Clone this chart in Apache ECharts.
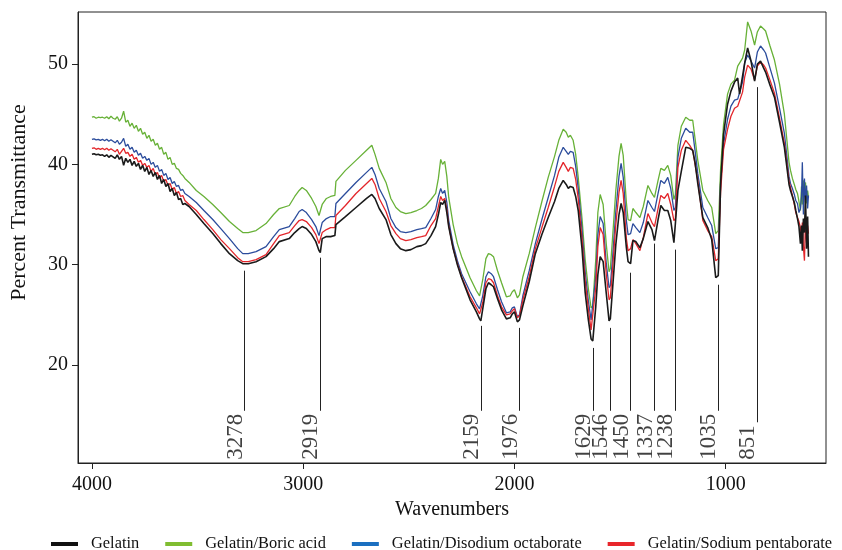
<!DOCTYPE html>
<html>
<head>
<meta charset="utf-8">
<script src="https://cdn.jsdelivr.net/npm/echarts@6.0.0/dist/echarts.min.js"></script>
</head>
<body style="margin: 0">
<div id="container" style="width: 842px; height: 550px"></div>
<script>
// wavenumbers (cm-1), shared by all four spectra
const wn = [
  4000, 3990, 3980, 3970, 3960, 3950, 3940, 3930, 3920, 3910,
  3900, 3890, 3880, 3870, 3860, 3850, 3840, 3830, 3820, 3810,
  3800, 3790, 3780, 3770, 3760, 3750, 3740, 3730, 3720, 3710,
  3700, 3690, 3680, 3670, 3660, 3650, 3640, 3630, 3620, 3610,
  3600, 3590, 3580, 3570, 3560,
  3540, 3506, 3470, 3428, 3390, 3349, 3310, 3286, 3260, 3223,
  3176, 3140, 3113, 3066, 3040, 3019, 3005, 2985, 2960, 2940,
  2925, 2919, 2910, 2890, 2870, 2850, 2845, 2800, 2750, 2700,
  2675, 2660, 2640, 2608, 2585, 2561, 2540, 2514, 2490, 2462,
  2440, 2420, 2395, 2373, 2360, 2349, 2340, 2330, 2320, 2311,
  2290, 2270, 2250, 2210, 2180, 2165, 2159, 2150, 2135, 2123,
  2110, 2099, 2080, 2061, 2038, 2020, 2010, 2000, 1986, 1976,
  1960, 1930, 1901, 1870, 1840, 1810, 1790, 1769, 1755, 1745,
  1735, 1722, 1710, 1698, 1680, 1665, 1650, 1637, 1629, 1615,
  1605, 1594, 1580, 1565, 1552, 1546, 1535, 1520, 1505, 1495,
  1485, 1470, 1462, 1450, 1439, 1425, 1406, 1390, 1368, 1349,
  1337, 1320, 1307, 1290, 1274, 1260, 1245, 1238, 1226, 1210,
  1189, 1170, 1156, 1145, 1132, 1108, 1085, 1066, 1047, 1035,
  1024, 1010, 991, 975, 958, 943, 934, 920, 910, 896,
  880, 863, 850, 835, 820, 811, 790, 769, 745, 722,
  700, 693, 684, 675, 668, 660, 653, 646, 641, 637,
  632, 627, 622, 617, 612, 608
];

const gelatin = [
  41.0, 41.05, 40.95, 41.0, 40.9, 40.95, 40.8, 40.95, 40.7, 40.9,
  40.75, 40.6, 40.95, 40.5, 40.8, 39.9, 40.6, 40.2, 40.5, 39.9,
  40.3, 39.8, 40.1, 39.5, 39.9, 39.3, 39.7, 39.0, 39.4, 38.8,
  39.2, 38.5, 38.9, 38.1, 38.5, 37.8, 38.1, 37.3, 37.6, 36.9,
  37.2, 36.5, 36.6, 36.0, 36.1,
  35.8, 35.0, 34.1, 33.1, 32.1, 31.1, 30.4, 30.1, 30.1, 30.3,
  30.8, 31.6, 32.3, 32.6, 33.2, 33.6, 33.8, 33.6, 33.0, 32.3,
  31.4, 31.2, 32.6, 32.8, 32.8, 32.9, 34.0, 34.8, 35.7, 36.6,
  37.0, 36.6, 35.6, 34.5, 33.0, 32.1, 31.6, 31.4, 31.5, 31.8,
  31.9, 32.1, 32.9, 33.8, 35.0, 36.2, 36.0, 36.4, 35.2, 33.8,
  31.6, 30.0, 28.7, 26.5, 25.3, 24.6, 24.4, 25.6, 27.6, 28.2,
  28.0, 27.8, 26.6, 25.5, 24.6, 24.7, 25.1, 25.3, 24.3, 24.5,
  25.9, 28.3, 31.1, 33.0, 34.7, 36.3, 37.6, 38.4, 38.0, 37.6,
  37.8, 37.7, 36.8, 35.4, 31.6, 27.2, 24.5, 22.6, 22.4, 25.8,
  29.0, 30.8, 30.3, 27.1, 24.4, 24.6, 27.7, 32.0, 35.0, 36.1,
  35.2, 31.7, 30.3, 30.1, 32.4, 32.3, 31.7, 32.6, 34.3, 33.5,
  32.4, 34.5, 35.9, 35.4, 35.4, 34.4, 32.2, 32.3, 37.4, 39.3,
  41.7, 41.6, 41.4, 40.2, 38.1, 34.7, 33.7, 32.5, 28.7, 28.9,
  38.0, 43.0, 46.0, 47.3, 48.2, 48.6, 47.0, 48.8, 50.1, 51.6,
  50.3, 48.3, 50.0, 50.3, 49.6, 49.2, 47.9, 46.7, 44.2, 41.7,
  38.0, 37.4, 36.8, 36.2, 35.4, 34.6, 33.8, 32.1, 33.9, 31.4,
  34.6, 33.2, 36.9, 31.6, 34.8, 30.8
];

const boric = [
  44.7, 44.75, 44.6, 44.7, 44.65, 44.7, 44.6, 44.75, 44.55, 44.8,
  44.6, 44.5, 44.75, 44.3, 44.6, 45.3, 44.2, 44.4, 43.8, 44.1,
  43.6, 43.9, 43.3, 43.6, 43.0, 43.2, 42.6, 42.9, 42.3, 42.5,
  41.9, 42.1, 41.5, 41.7, 41.0, 41.2, 40.5, 40.7, 40.0, 40.1,
  39.6, 39.5, 39.1, 38.9, 38.6,
  38.2, 37.4, 36.8, 36.0, 35.2, 34.3, 33.6, 33.2, 33.2, 33.4,
  34.1, 35.0, 35.6, 35.9, 36.8, 37.4, 37.7, 37.4, 36.6, 35.8,
  34.9, 34.8, 36.0, 36.6, 36.8, 36.9, 38.3, 39.4, 40.4, 41.4,
  41.9, 41.0, 39.6, 38.2, 36.6, 35.7, 35.3, 35.1, 35.2, 35.4,
  35.6, 35.9, 36.5, 37.1, 38.6, 40.5, 40.0, 40.3, 38.8, 36.7,
  34.0, 32.1, 30.8, 28.7, 27.4, 26.9, 26.8, 28.5, 30.6, 31.1,
  31.0, 30.8, 29.4, 28.2, 26.8, 26.9, 27.3, 27.5, 26.7, 27.0,
  28.8, 31.1, 33.7, 36.3, 38.7, 40.8, 42.4, 43.5, 43.2, 42.7,
  42.9, 42.4, 41.0, 38.7, 34.6, 30.5, 27.6, 25.7, 25.9, 30.5,
  35.2, 37.0, 36.0, 32.0, 29.3, 29.6, 32.8, 37.4, 40.8, 42.1,
  40.9, 36.2, 34.5, 34.4, 35.6, 35.2, 34.7, 35.8, 37.9, 37.1,
  36.7, 38.4, 39.6, 39.4, 39.9, 38.9, 36.5, 37.0, 41.9, 43.8,
  44.7, 44.4, 44.4, 42.6, 40.4, 37.4, 36.4, 35.7, 33.1, 33.4,
  39.5, 44.0, 47.0, 48.0, 48.4, 49.8, 49.7, 50.6, 51.4, 54.2,
  53.3, 51.9, 53.2, 53.8, 53.5, 53.3, 51.8, 50.4, 48.0, 45.0,
  40.2, 39.4, 38.6, 38.0, 37.5, 37.1, 36.3, 35.4, 37.8, 36.0,
  38.4, 37.0, 38.2, 36.1, 37.4, 36.7
];

const disodium = [
  42.5, 42.55, 42.45, 42.5, 42.4, 42.5, 42.35, 42.5, 42.3, 42.45,
  42.3, 42.15, 42.4, 42.0, 42.2, 42.6, 41.8, 42.0, 41.5, 41.7,
  41.2, 41.4, 40.9, 41.1, 40.6, 40.8, 40.4, 40.6, 40.0, 40.2,
  39.7, 39.9, 39.3, 39.5, 38.9, 39.1, 38.5, 38.7, 38.1, 38.3,
  37.8, 37.9, 37.4, 37.5, 37.1,
  36.8, 36.2, 35.4, 34.5, 33.6, 32.6, 31.6, 31.1, 31.1, 31.3,
  31.8, 32.8, 33.5, 33.8, 34.6, 35.3, 35.5, 35.2, 34.5, 33.8,
  32.9, 32.8, 34.2, 34.6, 34.8, 34.8, 36.1, 37.1, 38.2, 39.2,
  39.7, 39.0, 37.6, 36.3, 34.6, 33.7, 33.3, 33.2, 33.3, 33.5,
  33.6, 33.7, 34.6, 35.5, 36.8, 37.6, 37.1, 37.4, 36.2, 34.4,
  32.0, 30.4, 29.1, 27.3, 26.1, 25.6, 25.5, 26.9, 28.8, 29.3,
  29.1, 28.8, 27.5, 26.3, 25.2, 25.3, 25.7, 25.8, 24.8, 25.0,
  26.9, 29.4, 32.1, 34.5, 36.7, 38.9, 40.7, 41.7, 41.3, 41.0,
  41.3, 41.2, 39.8, 37.6, 33.5, 29.3, 26.4, 24.5, 24.6, 28.8,
  33.0, 34.8, 34.1, 30.1, 27.7, 27.9, 30.8, 35.3, 38.8, 40.1,
  38.7, 34.4, 33.0, 33.1, 34.1, 33.7, 33.2, 34.2, 36.4, 35.7,
  35.3, 37.1, 38.4, 38.1, 38.7, 37.6, 35.4, 35.7, 40.7, 42.6,
  43.6, 43.2, 43.2, 41.4, 39.1, 35.7, 34.7, 33.9, 31.6, 31.7,
  38.0, 42.0, 44.5, 45.8, 46.4, 46.5, 46.5, 48.2, 50.1, 50.9,
  50.3, 49.6, 51.2, 51.8, 51.4, 51.1, 49.6, 48.1, 45.6, 43.1,
  38.8, 38.1, 37.6, 37.0, 36.4, 36.1, 35.2, 35.6, 36.8, 40.2,
  35.0, 38.6, 36.2, 37.9, 35.6, 36.9
];

const sodium = [
  41.6, 41.65, 41.5, 41.6, 41.5, 41.6, 41.45, 41.6, 41.4, 41.55,
  41.4, 41.25, 41.5, 41.0, 41.3, 41.6, 41.1, 41.2, 40.8, 41.0,
  40.5, 40.7, 40.2, 40.4, 39.9, 40.1, 39.7, 39.9, 39.3, 39.6,
  39.0, 39.2, 38.6, 38.9, 38.3, 38.5, 37.9, 38.1, 37.5, 37.7,
  37.1, 37.3, 36.8, 36.9, 36.4,
  36.0, 35.4, 34.5, 33.5, 32.5, 31.6, 30.7, 30.3, 30.3, 30.5,
  31.0, 32.1, 32.9, 33.2, 33.9, 34.4, 34.5, 34.3, 33.7, 33.0,
  32.1, 32.0, 33.2, 33.5, 33.7, 33.7, 34.9, 35.9, 37.1, 38.1,
  38.6, 38.0, 36.6, 35.3, 33.9, 33.1, 32.6, 32.4, 32.5, 32.7,
  32.8, 32.9, 33.9, 34.6, 35.8, 36.8, 36.4, 36.6, 35.5, 33.9,
  31.6, 30.1, 28.8, 26.8, 25.7, 25.1, 25.0, 26.2, 28.2, 28.6,
  28.5, 28.2, 26.9, 25.8, 25.0, 25.1, 25.4, 25.6, 24.7, 24.9,
  26.5, 28.8, 31.6, 33.7, 35.7, 37.8, 39.3, 40.2, 39.7, 39.3,
  39.7, 39.6, 38.5, 36.6, 32.6, 28.4, 25.6, 23.5, 23.6, 27.7,
  31.8, 33.7, 33.0, 29.0, 26.5, 26.7, 29.7, 34.0, 37.2, 38.4,
  37.1, 32.6, 31.4, 31.6, 32.5, 32.1, 31.4, 32.7, 35.1, 34.2,
  33.8, 35.6, 36.9, 36.6, 37.1, 36.0, 34.4, 34.6, 39.7, 41.4,
  42.4, 41.9, 41.4, 40.0, 38.4, 34.4, 33.4, 32.8, 30.4, 30.6,
  37.2, 41.5, 43.5, 44.8, 45.6, 45.8, 45.9, 47.2, 48.7, 49.9,
  49.5, 48.4, 49.8, 50.2, 49.9, 49.6, 48.4, 47.1, 44.6, 42.1,
  38.3, 37.7, 36.9, 36.0, 35.2, 34.7, 34.3, 33.7, 32.6, 34.2,
  31.8, 30.4, 34.5, 32.2, 33.9, 33.1
];

// marked bands and the top end of their guide lines
const peaks = [3278, 2919, 2159, 1976, 1629, 1546, 1450, 1337, 1238, 1035, 851];
const peakTop = [29.4, 30.7, 23.9, 23.7, 21.7, 23.7, 29.2, 32.1, 31.5, 28.0, 47.7];

const xTicks = [1000, 2000, 3000, 4000];
const yTicks = [20, 30, 40, 50];

const names = ['Gelatin', 'Gelatin/Boric acid', 'Gelatin/Disodium octaborate', 'Gelatin/Sodium pentaborate'];
const colors = ['#1a1a1a', '#67b137', '#2b4c9c', '#e3262b'];
const legendColors = ['#111111', '#80bd31', '#1b6fc0', '#e8262b'];

const font = 'Liberation Serif';
const ink = '#111';
const peakFont = 23;
const labelBase = 10.55;

function pairs(vals) {
  return wn.map((w, i) => [w, vals[i]]);
}

var chart = echarts.init(document.getElementById('container'));

function spectrum(i, vals, z) {
  return {
    name: names[i],
    type: 'line',
    data: pairs(vals),
    symbol: 'none',
    z: z,
    lineStyle: { width: i === 0 ? 1.6 : 1.3, color: colors[i] },
    itemStyle: { color: colors[i] },
    animation: false
  };
}

var option = {
  animation: false,
  textStyle: { fontFamily: font },
  grid: {
    left: 78, right: 16, top: 12, bottom: 87,
    show: true, borderColor: '#222', borderWidth: 1
  },
  legend: {
    data: names.map((n, i) => ({ name: n, itemStyle: { color: legendColors[i] } })),
    left: 46, top: 531, width: 796,
    icon: 'rect', itemWidth: 27, itemHeight: 4, itemGap: 26,
    textStyle: { fontFamily: font, fontSize: 16.4, color: ink, padding: [0, 0, 0, 8] }
  },
  xAxis: {
    type: 'value', inverse: true, min: 525, max: 4066,
    name: 'Wavenumbers', nameLocation: 'middle', nameGap: 34,
    nameTextStyle: { fontFamily: font, fontSize: 20, color: ink },
    splitLine: { show: false },
    axisLine: { show: true, onZero: false, lineStyle: { color: '#222' } },
    axisTick: { show: true, length: 6, customValues: xTicks, lineStyle: { color: '#222' } },
    axisLabel: {
      customValues: xTicks, margin: 12, fontFamily: font, fontSize: 20, color: ink,
      formatter: v => String(v)
    }
  },
  yAxis: {
    type: 'value', min: 10.23, max: 55.19,
    name: 'Percent Transmittance', nameLocation: 'middle', nameGap: 48,
    nameTextStyle: { fontFamily: font, fontSize: 22, color: ink, padding: [0, 0, 0, 70] },
    splitLine: { show: false },
    axisLine: { show: true, onZero: false, lineStyle: { color: '#222' } },
    axisTick: { show: true, length: 6, customValues: yTicks, lineStyle: { color: '#222' } },
    axisLabel: {
      customValues: yTicks, margin: 10, fontFamily: font, fontSize: 20, color: ink,
      formatter: v => String(v)
    }
  },
  series: [
    spectrum(1, boric, 2),
    spectrum(2, disodium, 3),
    spectrum(3, sodium, 4),
    spectrum(0, gelatin, 5),
    {
      name: 'peaks',
      type: 'scatter',
      symbolSize: 0,
      z: 10,
      data: peaks.map(p => [p, labelBase]),
      label: {
        show: true,
        position: [0, 0],
        rotate: 90,
        align: 'left',
        verticalAlign: 'bottom',
        lineHeight: 18,
        fontFamily: font,
        fontSize: peakFont,
        color: ink,
        formatter: p => String(peaks[p.dataIndex])
      },
      markLine: {
        silent: true,
        symbol: 'none',
        animation: false,
        label: { show: false },
        lineStyle: { color: '#222', width: 1, type: 'solid' },
        data: []
      }
    }
  ]
};
chart.setOption(option);

// guide lines stop where each rotated label begins
var lines = peaks.map((p, i) => {
  var base = chart.convertToPixel({ gridIndex: 0 }, [p, labelBase]);
  var len = String(p).length * peakFont * 0.5 + 3;
  var bottom = chart.convertFromPixel({ gridIndex: 0 }, [base[0], base[1] - len])[1];
  return [{ coord: [p, peakTop[i]] }, { coord: [p, bottom] }];
});
chart.setOption({ series: [{}, {}, {}, {}, { markLine: { data: lines } }] });
</script>
</body>
</html>
